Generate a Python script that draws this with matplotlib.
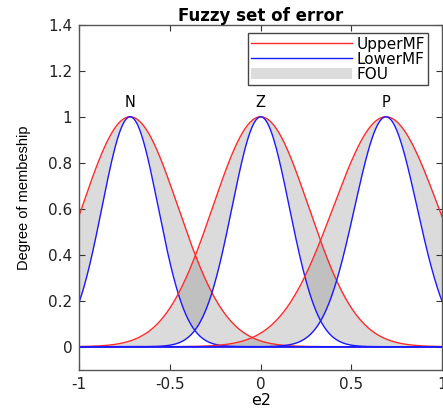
import numpy as np
import matplotlib
matplotlib.use('Agg')
import matplotlib.pyplot as plt
from matplotlib.patches import Patch
from matplotlib.lines import Line2D

# membership function parameters
labels = ['N', 'Z', 'P']
centers = [-0.72, 0.0, 0.69]
sigma_upper = [0.265, 0.265, 0.29]
sigma_lower = [0.155, 0.158, 0.172]

plt.rcParams['font.family'] = ['DejaVu Sans']

fig = plt.figure(figsize=(4.43, 4.12), dpi=100)
ax = fig.add_axes([0.179, 0.1027, 0.819, 0.837])

x = np.linspace(-1, 1, 801)
for c, su, sl, lab in zip(centers, sigma_upper, sigma_lower, labels):
    up = np.exp(-(x - c) ** 2 / (2 * su ** 2))
    lo = np.exp(-(x - c) ** 2 / (2 * sl ** 2))
    ax.fill_between(x, lo, up, color='0.45', alpha=0.25, linewidth=0)
    ax.plot(x, up, color='#ff2a2a', lw=1.0)
    ax.plot(x, lo, color='#1a1aff', lw=1.0)
    ax.text(c, 1.03, lab, ha='center', va='bottom', fontsize=10.5)

ax.axhline(0, color='#1a1aff', lw=1.2)

ax.set_xlim(-1, 1)
ax.set_ylim(-0.1, 1.4)
ax.set_xticks([-1, -0.5, 0, 0.5, 1])
ax.set_xticklabels(['-1', '-0.5', '0', '0.5', '1'])
ax.set_yticks([0, 0.2, 0.4, 0.6, 0.8, 1, 1.2, 1.4])
ax.set_yticklabels(['0', '0.2', '0.4', '0.6', '0.8', '1', '1.2', '1.4'])
ax.tick_params(direction='in', top=True, right=True, labelsize=11,
               length=4, colors='#333333', labelcolor='#222222', pad=5)
for s in ax.spines.values():
    s.set_color('#555555')
    s.set_linewidth(1.0)

ax.set_title('Fuzzy set of error', fontsize=12, fontweight='bold', pad=3)
ax.set_xlabel('e2', fontsize=11.5, labelpad=1)
ax.set_ylabel('Degree of membeship', fontsize=10.5, labelpad=12,
              family=['Liberation Sans Narrow', 'Liberation Sans'])

handles = [Line2D([], [], color='#ff2a2a', lw=1.0),
           Line2D([], [], color='#1a1aff', lw=1.0),
           Patch(facecolor='#dcdcdc', edgecolor='none')]
leg = ax.legend(handles, ['UpperMF', 'LowerMF', 'FOU'], loc='upper right',
                bbox_to_anchor=(0.961, 0.975), borderaxespad=0, fontsize=11,
                handlelength=6.6, labelspacing=0.0, handletextpad=0.3,
                borderpad=0.2, fancybox=False, framealpha=1)
leg.get_frame().set_edgecolor('#444444')
leg.get_frame().set_linewidth(1.0)

fig.savefig('out.png', dpi=100)
